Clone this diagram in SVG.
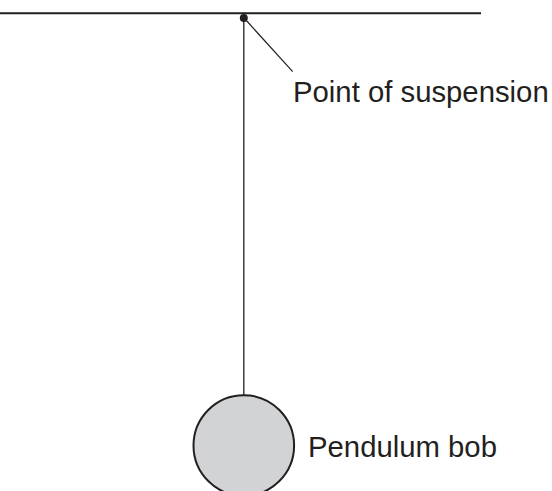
<svg xmlns="http://www.w3.org/2000/svg" width="552" height="491" viewBox="0 0 552 491">
<style>
.ln{stroke:#231f20;fill:none}
.lbl{font-family:"Liberation Sans",Arial,sans-serif;font-size:29.3px;fill:#231f20}
</style>
<rect width="552" height="491" fill="#fff"/>
<g id="support">
<line class="ln" x1="0" y1="13.3" x2="481" y2="13.3" stroke-width="2"/>
</g>
<g id="connectors">
<line class="ln" x1="243.8" y1="18" x2="243.8" y2="395" stroke-width="1.3"/>
<line class="ln" x1="244.5" y1="18.5" x2="292.7" y2="71.7" stroke-width="1.2"/>
</g>
<g id="suspension">
<circle cx="243.8" cy="18" r="4" fill="#231f20"/>
<text class="lbl" x="293" y="101.5">Point of suspension</text>
</g>
<g id="bob">
<circle cx="243.8" cy="445.5" r="50.3" fill="#d1d3d4" stroke="#231f20" stroke-width="2"/>
<text class="lbl" x="308" y="456.5">Pendulum bob</text>
</g>
</svg>
